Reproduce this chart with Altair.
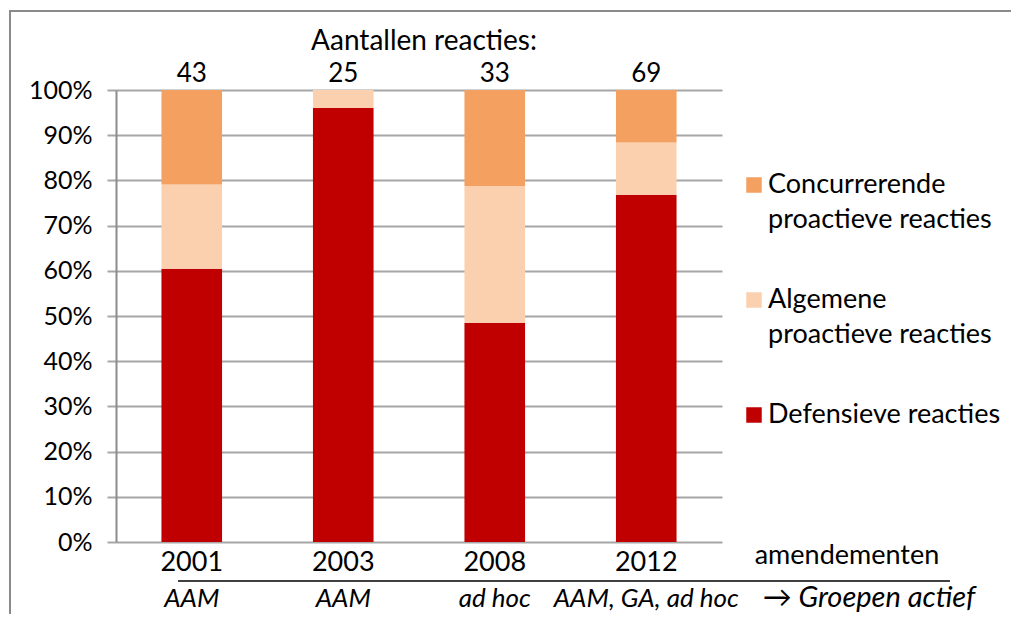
import altair as alt
import pandas as pd

# ---- data ----
years = ["2001", "2003", "2008", "2012"]
totals = [43, 25, 33, 69]
defensief = [26, 24, 16, 53]
algemeen = [8, 1, 10, 8]
concurrerend = [9, 0, 7, 8]
kanaal = ["AAM", "AAM", "ad hoc", "AAM, GA, ad hoc"]

series = ["Defensieve reacties", "Algemene proactieve reacties", "Concurrerende proactieve reacties"]
series_colors = ["#C00000", "#FBD0AE", "#F4A061"]
legend_order = ["Concurrerende proactieve reacties", "Algemene proactieve reacties", "Defensieve reacties"]
legend_text = ["Concurrerende\nproactieve reacties", "Algemene\nproactieve reacties", "Defensieve reacties"]

title_text = "Aantallen reacties:"
axis_note = "amendementen"
arrow_note = "\u2192 Groepen actief"

FONT = "Lato"

rows = []
for i, y in enumerate(years):
    for k, (s, vals) in enumerate(zip(series, [defensief, algemeen, concurrerend])):
        rows.append({"year": y, "series": s, "n": vals[i], "order": k})
df = pd.DataFrame(rows)
df_tot = pd.DataFrame({"year": years, "total": totals, "kanaal": kanaal})
df_leg = pd.DataFrame({"series": legend_order, "label": legend_text})
one = pd.DataFrame({"a": [0]})

color_scale = alt.Scale(domain=series, range=series_colors)
x_enc = alt.X(
    "year:N", sort=years,
    scale=alt.Scale(paddingInner=0.6, paddingOuter=0.3),
    axis=alt.Axis(title=None, labelAngle=0, ticks=False, domain=False,
                  labelFontSize=27, labelPadding=7, labelColor="black", labelFont=FONT),
)

bars = alt.Chart(df).mark_bar().encode(
    x=x_enc,
    y=alt.Y("n:Q", stack="normalize",
            scale=alt.Scale(domain=[0, 1]),
            axis=alt.Axis(title=None, format=".0%",
                          values=[i / 10 for i in range(11)],
                          grid=True, gridColor="#A6A6A6", gridWidth=2,
                          tickSize=9, tickWidth=2, tickColor="#A6A6A6",
                          domainColor="#8C8C8C", domainWidth=2,
                          labelFontSize=25, labelPadding=15, labelColor="black",
                          labelFont=FONT)),
    color=alt.Color("series:N", scale=color_scale, legend=None),
    order=alt.Order("order:Q", sort="ascending"),
)

count_text = alt.Chart(df_tot).mark_text(
    fontSize=26, font=FONT, color="black", baseline="middle", dy=-16
).encode(
    x=alt.X("year:N", sort=years),
    y=alt.datum(1),
    text="total:Q",
)

kanaal_text = alt.Chart(df_tot).mark_text(
    fontSize=26, font=FONT, fontStyle="italic", color="black", baseline="middle"
).encode(
    x=alt.X("year:N", sort=years),
    y=alt.value(509),
    text="kanaal:N",
)

title_mark = alt.Chart(one).mark_text(
    fontSize=28, font=FONT, color="black", baseline="middle"
).encode(x=alt.value(308), y=alt.value(-48), text=alt.value(title_text))

note_mark = alt.Chart(one).mark_text(
    fontSize=27, font=FONT, color="black", baseline="middle"
).encode(x=alt.value(731), y=alt.value(466), text=alt.value(axis_note))

arrow_mark = alt.Chart(one).mark_text(
    fontSize=29, font=FONT, fontStyle="italic", color="black", baseline="middle"
).encode(x=alt.value(753), y=alt.value(508), text=alt.value(arrow_note))

sep_line = alt.Chart(one).mark_rule(color="black", strokeWidth=1.5).encode(
    x=alt.value(62), x2=alt.value(834), y=alt.value(491))

frame_top = alt.Chart(one).mark_rule(color="#8A8A8A", strokeWidth=2).encode(
    x=alt.value(-106), x2=alt.value(900), y=alt.value(-79))
frame_left = alt.Chart(one).mark_rule(color="#8A8A8A", strokeWidth=2).encode(
    x=alt.value(-106), y=alt.value(-80), y2=alt.value(540))

leg_y = alt.Y("series:N", scale=alt.Scale(type="point", domain=legend_order,
                                          range=[95, 325], padding=0), axis=None)
leg_sym = alt.Chart(df_leg).mark_square(size=240, opacity=1).encode(
    x=alt.value(638), y=leg_y,
    color=alt.Color("series:N", scale=color_scale, legend=None),
)
leg_txt = alt.Chart(df_leg).mark_text(
    fontSize=27, font=FONT, color="black", align="left", baseline="alphabetic",
    dy=8, lineBreak="\n", lineHeight=35,
).encode(x=alt.value(652), y=leg_y, text="label:N")

main = alt.layer(bars, count_text, kanaal_text)
legend = alt.layer(leg_sym, leg_txt)

chart = alt.layer(
    main, legend, title_mark, note_mark, arrow_mark, sep_line, frame_top, frame_left
).resolve_scale(y="independent", x="shared").properties(
    width=606, height=452,
    autosize="none",
    padding={"left": 108, "top": 82, "right": 289, "bottom": 72},
    background="white",
).configure_view(stroke=None)

chart.save("out.html", embed_options={"renderer": "svg", "actions": False})
